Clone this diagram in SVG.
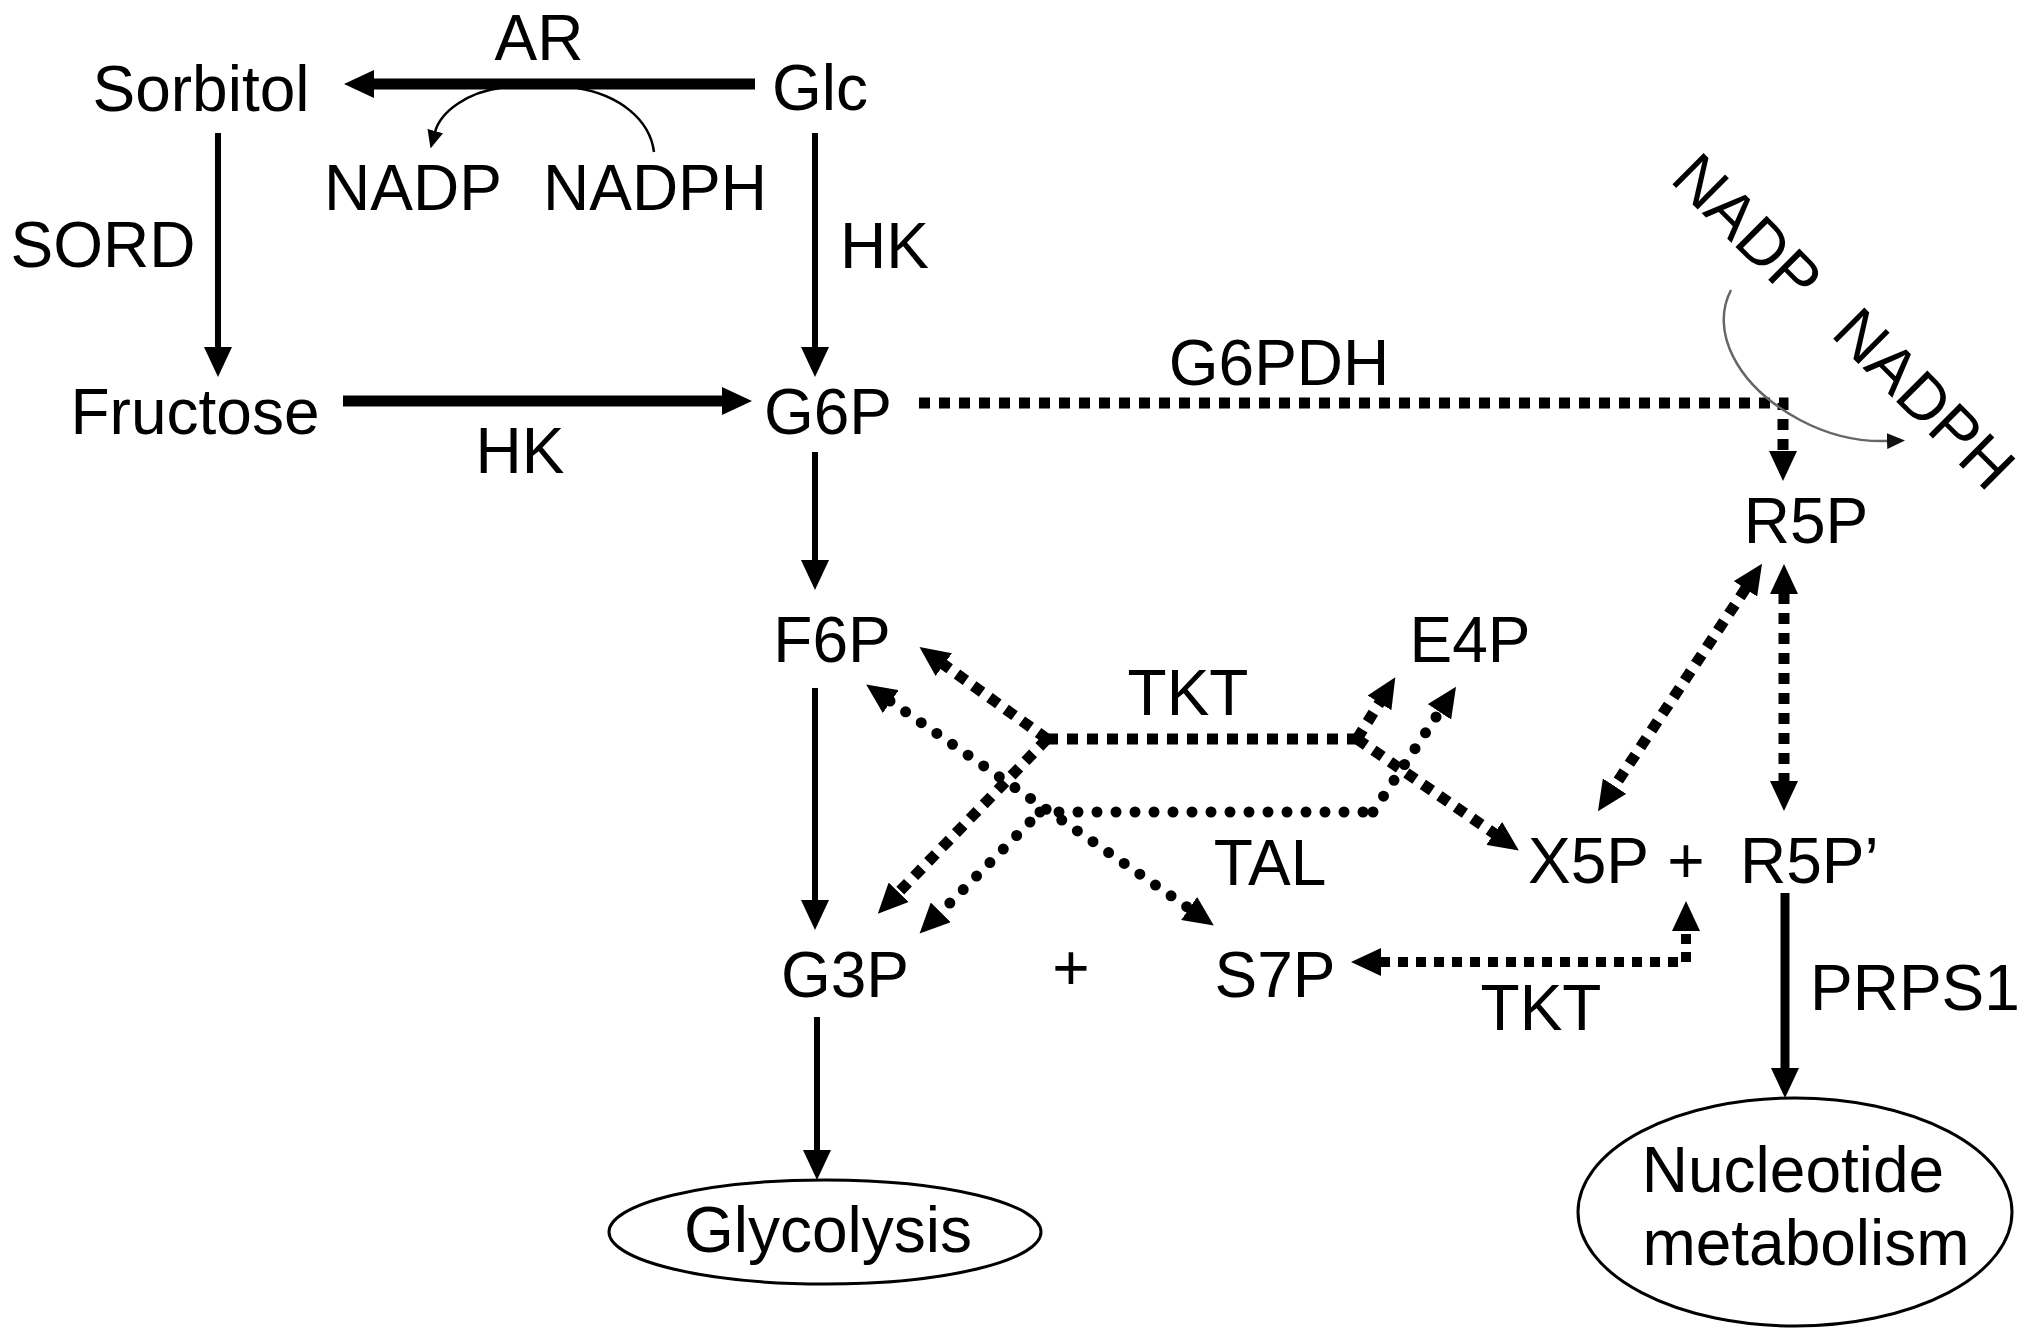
<svg xmlns="http://www.w3.org/2000/svg" width="2031" height="1341" viewBox="0 0 2031 1341">
<defs>
<style>
text{font-family:"Liberation Sans",Arial,sans-serif;font-size:64px;fill:#000;text-anchor:middle}
.st{text-anchor:start}
.solid{fill:none;stroke:#000;stroke-width:6}
.thick{fill:none;stroke:#000;stroke-width:11}
.sq{fill:none;stroke:#000;stroke-width:11;stroke-dasharray:11 9}
.sq8{fill:none;stroke:#000;stroke-width:10;stroke-dasharray:10 8}
.rd{fill:none;stroke:#000;stroke-width:11;stroke-linecap:round;stroke-dasharray:0 19}
.thin{fill:none;stroke:#000;stroke-width:2.5}
.gray{fill:none;stroke:#666;stroke-width:2.5}
.ell{fill:#fff;stroke:#000;stroke-width:3}
</style>
<marker id="ah" viewBox="0 0 30 28" refX="1" refY="14" markerWidth="30" markerHeight="28" markerUnits="userSpaceOnUse" orient="auto-start-reverse"><path d="M0,0 L30,14 L0,28 z" fill="#000"/></marker>
<marker id="ahs" viewBox="0 0 18 16" refX="1" refY="8" markerWidth="18" markerHeight="16" markerUnits="userSpaceOnUse" orient="auto"><path d="M0,0 L18,8 L0,16 z" fill="#000"/></marker>
<marker id="ahg" viewBox="0 0 18 16" refX="1" refY="8" markerWidth="18" markerHeight="16" markerUnits="userSpaceOnUse" orient="auto"><path d="M0,0 L18,8 L0,16 z" fill="#111"/></marker>
</defs>
<rect width="2031" height="1341" fill="#fff"/>

<g id="connectors">
<!-- solid arrows -->
<line class="thick" x1="755" y1="84" x2="373" y2="84" marker-end="url(#ah)"/>
<line class="solid" x1="218" y1="133" x2="218" y2="348" marker-end="url(#ah)"/>
<line class="solid" x1="815" y1="133" x2="815" y2="348" marker-end="url(#ah)"/>
<line class="thick" x1="343" y1="401" x2="723" y2="401" marker-end="url(#ah)"/>
<line class="solid" x1="815" y1="452" x2="815" y2="561" marker-end="url(#ah)"/>
<line class="solid" x1="815" y1="688" x2="815" y2="901" marker-end="url(#ah)"/>
<line class="solid" x1="817" y1="1017" x2="817" y2="1151" marker-end="url(#ah)"/>
<line class="solid" style="stroke-width:9" x1="1785" y1="893" x2="1785" y2="1069" marker-end="url(#ah)"/>
<!-- AR cofactor curves -->
<path class="thin" d="M500,88 C470,92 441,110 435,132" marker-end="url(#ahs)"/>
<path class="thin" d="M577,88 C620,95 650,120 654,152"/>
<!-- G6PDH -->
<path class="sq" d="M919,403 H1783 V452" marker-end="url(#ah)"/>
<path class="gray" d="M1731,290 C1710,330 1735,385 1800,420 C1830,436 1860,442 1888,441" marker-end="url(#ahg)"/>
<!-- TKT (upper) -->
<line class="sq" x1="1047" y1="739" x2="943" y2="664" marker-end="url(#ah)"/>
<line class="sq" x1="1047" y1="739" x2="898" y2="893" marker-end="url(#ah)"/>
<line class="sq" x1="1047" y1="739" x2="1357" y2="739"/>
<line class="sq" x1="1357" y1="739" x2="1380" y2="702" marker-end="url(#ah)"/>
<line class="sq" x1="1357" y1="739" x2="1495" y2="834" marker-end="url(#ah)"/>
<!-- TAL -->
<line class="rd" x1="890" y1="701" x2="1190" y2="909" marker-start="url(#ah)" marker-end="url(#ah)"/>
<line class="rd" x1="1040" y1="812" x2="1373" y2="812"/>
<line class="rd" x1="1030" y1="822" x2="940" y2="913" marker-end="url(#ah)"/>
<line class="rd" x1="1373" y1="812" x2="1440" y2="711" marker-end="url(#ah)"/>
<!-- R5P links -->
<line class="sq" x1="1784" y1="593" x2="1784" y2="782" marker-start="url(#ah)" marker-end="url(#ah)"/>
<line class="sq" x1="1746" y1="588" x2="1614" y2="787" marker-start="url(#ah)" marker-end="url(#ah)"/>
<!-- TKT (lower) -->
<path class="sq8" d="M1380,962 H1686 V930" marker-start="url(#ah)" marker-end="url(#ah)"/>
</g>

<g id="node-ar"><text x="539" y="60">AR</text></g>
<g id="node-sorbitol"><text x="201" y="111">Sorbitol</text></g>
<g id="node-glc"><text x="820" y="110">Glc</text></g>
<g id="node-nadp1"><text x="413" y="210">NADP</text></g>
<g id="node-nadph1"><text x="655" y="210">NADPH</text></g>
<g id="node-sord"><text x="103" y="267">SORD</text></g>
<g id="node-hk1"><text class="st" x="840" y="268">HK</text></g>
<g id="node-fructose"><text x="195" y="434">Fructose</text></g>
<g id="node-g6p"><text x="828" y="434">G6P</text></g>
<g id="node-hk2"><text x="520" y="473">HK</text></g>
<g id="node-g6pdh"><text x="1279" y="385">G6PDH</text></g>
<g id="node-nadp2"><text transform="translate(1748,227) rotate(45)" x="0" y="23">NADP</text></g>
<g id="node-nadph2"><text transform="translate(1925,398) rotate(45)" x="0" y="23">NADPH</text></g>
<g id="node-r5p"><text x="1806" y="543">R5P</text></g>
<g id="node-f6p"><text x="832" y="662">F6P</text></g>
<g id="node-e4p"><text x="1470" y="662">E4P</text></g>
<g id="node-tkt1"><text x="1188" y="715">TKT</text></g>
<g id="node-tal"><text x="1270" y="885">TAL</text></g>
<g id="node-x5p"><text class="st" x="1528" y="883">X5P</text></g>
<g id="node-plus1"><text x="1686" y="883">+</text></g>
<g id="node-r5p2"><text class="st" x="1740" y="883">R5P’</text></g>
<g id="node-g3p"><text x="845" y="997">G3P</text></g>
<g id="node-plus2"><text x="1071" y="990">+</text></g>
<g id="node-s7p"><text x="1275" y="997">S7P</text></g>
<g id="node-tkt2"><text x="1541" y="1030">TKT</text></g>
<g id="node-prps1"><text class="st" x="1810" y="1010">PRPS1</text></g>
<g id="node-glycolysis"><ellipse class="ell" cx="825" cy="1232" rx="216" ry="52"/><text x="828" y="1252">Glycolysis</text></g>
<g id="node-nucleotide"><ellipse class="ell" cx="1795" cy="1212" rx="217" ry="114"/><text x="1793" y="1192">Nucleotide</text><text x="1806" y="1265">metabolism</text></g>
</svg>
